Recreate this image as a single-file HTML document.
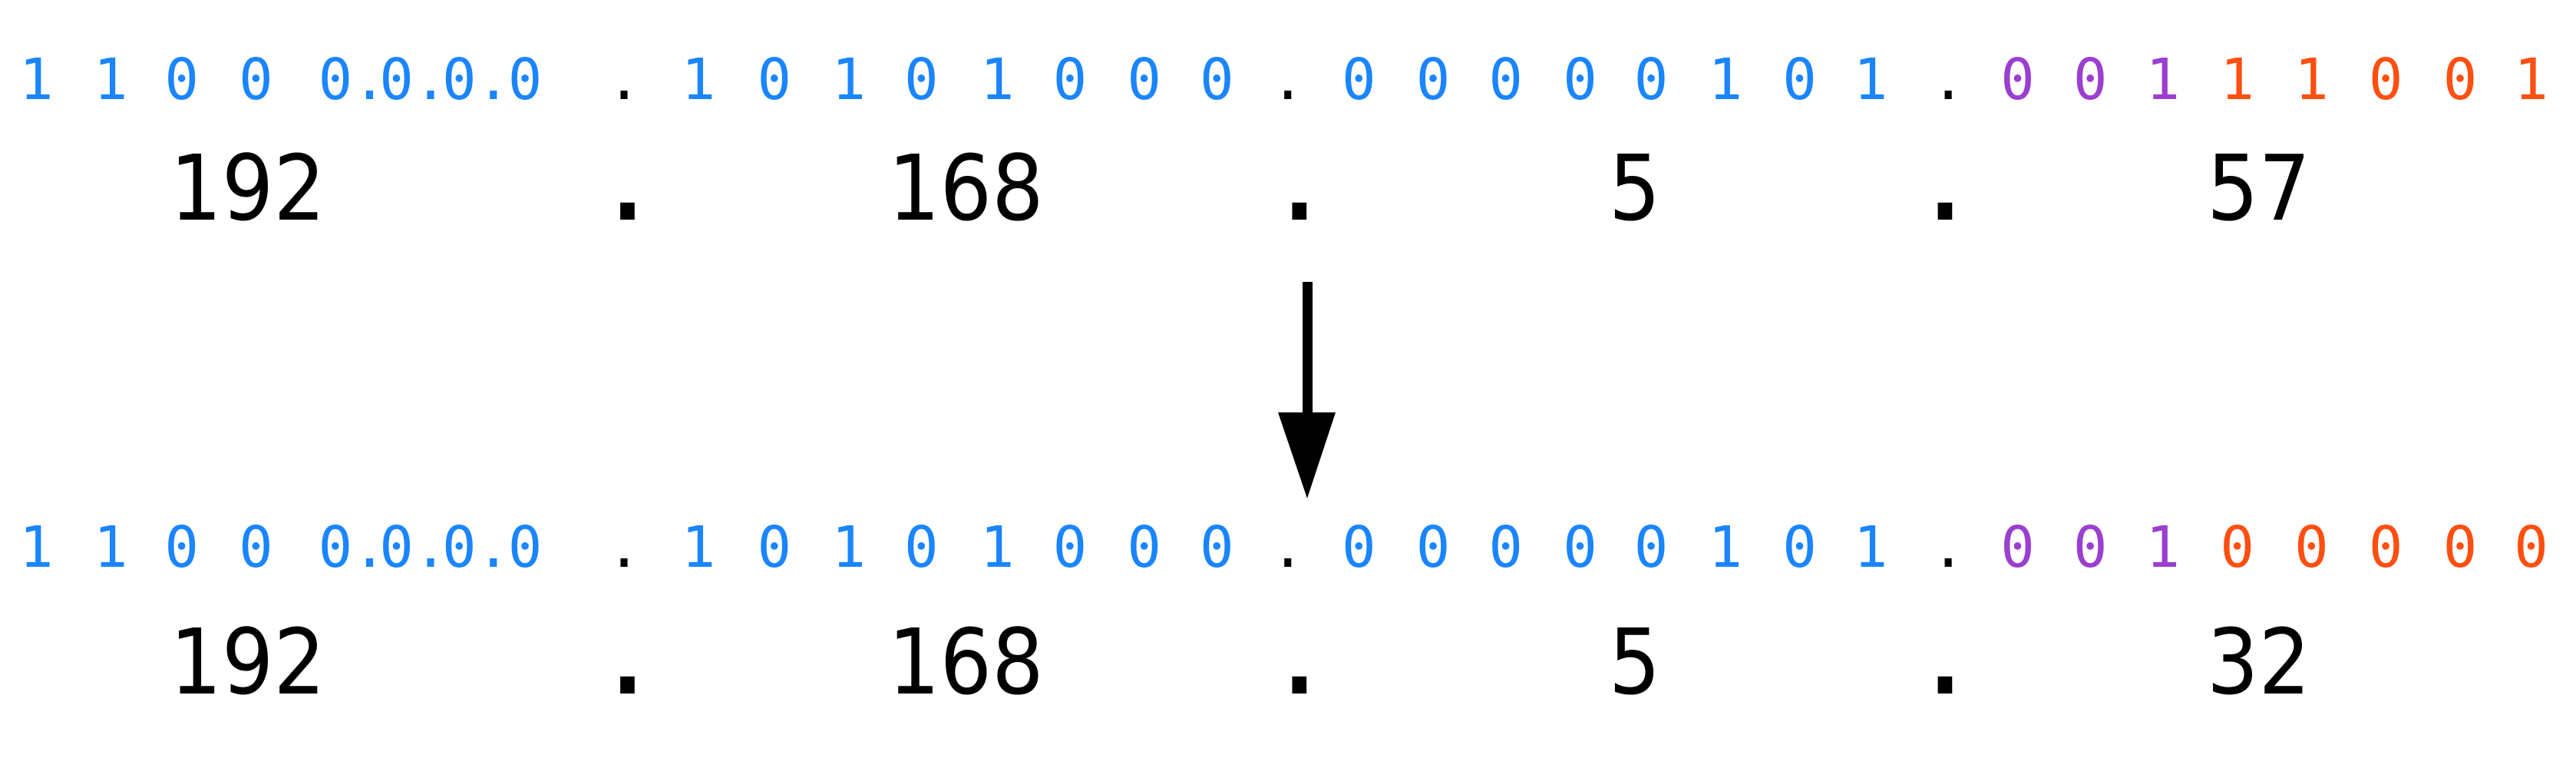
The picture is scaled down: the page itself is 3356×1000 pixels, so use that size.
<!DOCTYPE html>
<html><head><meta charset="utf-8"><style>
html,body{margin:0;padding:0;background:#fff;}
svg{display:block;}
.bin{font-family:"DejaVu Sans Mono","Liberation Mono",monospace;font-size:74px;}
.dec{font-family:"DejaVu Sans Condensed","DejaVu Sans","Liberation Sans",sans-serif;font-size:118px;fill:#000;}
</style></head><body>
<svg id="fig" width="3356" height="1000" viewBox="0 0 3356 1000">
<g id="arrow">
<rect x="1697" y="367" width="13" height="180" fill="#000"/>
<polygon points="1665,537 1740,537 1703,649" fill="#000"/>
</g>
</svg>
<script>
const S = 2.151;
const topBits = ["1","1","0","0","0.","0.","0.","0",".","1","0","1","0","1","0","0","0",".","0","0","0","0","0","1","0","1",".","0","0","1","1","1","0","0","1"];
const botBits = ["1","1","0","0","0.","0.","0.","0",".","1","0","1","0","1","0","0","0",".","0","0","0","0","0","1","0","1",".","0","0","1","0","0","0","0","0"];
const colTop = "bbbbbbbbkbbbbbbbbkbbbbbbbbkpppoooooo".split("");
const colBot = "bbbbbbbbkbbbbbbbbkbbbbbbbbkpppoooooo".split("");
const colors = {b:"#1a85ff",k:"#000",p:"#9b3fd0",o:"#ff4f10"};
const xs = [22,67,110,155,203,240,278,318,378,423,469,514,558,604,648,693,737,780,823,868,912,957,1000,1045,1090,1133,1180,1222,1266,1310,1355,1400,1445,1490,1533];
const topDec = ["192",".","168",".","5",".","57"];
const botDec = ["192",".","168",".","5",".","32"];
const decX = [150,380,585,787,990,1178,1368];
const svg = document.getElementById('fig');
const NS = "http://www.w3.org/2000/svg";
function bits(arr, cols, y, name){
  const g = document.createElementNS(NS,'g');
  
  
  arr.forEach((c,i)=>{
    const t = document.createElementNS(NS,'text');
    
    
    t.setAttribute('class','bin');
    t.setAttribute('x', xs[i]*S);
    t.setAttribute('y', y);
    t.setAttribute('text-anchor', c.length>1 ? 'start':'middle');
    if(c.length>1) t.setAttribute('x', xs[i]*S-22);
    t.setAttribute('fill', colors[cols[i]]);
    t.textContent = c;
    g.appendChild(t);
  });
  svg.appendChild(g);
}
function decs(arr, y, name){
  const g = document.createElementNS(NS,'g');
  
  
  arr.forEach((c,i)=>{
    const t = document.createElementNS(NS,'text');
    
    
    t.setAttribute('class','dec');
    t.setAttribute('x', decX[i]*S);
    t.setAttribute('y', y);
    t.setAttribute('text-anchor','middle');
    if(c === ".") t.setAttribute('font-weight','bold');
    t.textContent = c;
    g.appendChild(t);
  });
  svg.appendChild(g);
}
bits(topBits, colTop, 129, 'original-binary-row');
decs(topDec, 286, 'original-decimal-row');
bits(botBits, colBot, 738, 'network-binary-row');
decs(botDec, 903, 'network-decimal-row');
</script>
</body></html>
